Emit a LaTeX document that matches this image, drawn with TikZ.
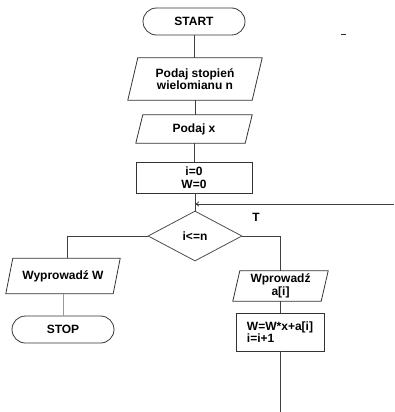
\documentclass[tikz,border=0pt]{standalone}
\usepackage{fontspec}
\setmainfont{Liberation Sans}
\usetikzlibrary{shapes.geometric,shapes.misc,arrows.meta}
\begin{document}
\begin{tikzpicture}[x=1pt,y=-1pt,
  line/.style={draw=black!75, line width=0.8pt},
  txt/.style={font=\fontsize{12}{12.5}\selectfont\bfseries, align=center, inner sep=0pt},
  term/.style={rounded rectangle, draw=black!80, line width=0.8pt, minimum width=102pt, minimum height=27pt, txt},
  box/.style={rectangle, draw=black!80, line width=0.8pt, txt},
  body/.style={rectangle, draw=none, txt},
  shp/.style={draw=black!80, line width=0.8pt},
  dia/.style={diamond, draw=black!70, line width=0.8pt, aspect=1.88, minimum width=94pt, minimum height=50pt, inner sep=0pt, txt}
]
\useasboundingbox (0,0) rectangle (394,412);

\node[term] (start) at (194,21.5) {START};
\node[body, minimum width=124pt, minimum height=42pt] (p1) at (195,79) {Podaj stopień\\wielomianu n};
\node[body, minimum width=109pt, minimum height=28pt] (p2) at (194,129) {Podaj x};
\node[box, minimum width=116pt, minimum height=31pt] (r1) at (194,177.5) {i=0\\W=0};
\node[dia] (d) at (195,236) {i<=n};
\node[body, minimum width=107pt, minimum height=35pt] (p3) at (63,276) {Wyprowadź W};
\node[term] (stop) at (63,329.5) {STOP};
\node[body, minimum width=88pt, minimum height=30pt] (p4) at (280.5,286) {Wprowadź\\a[i]};
\node[box, minimum width=88pt, minimum height=38pt, align=left] (r2) at (280,332) {W=W*x+a[i]\\i=i+1};
\node[txt] (t) at (256,217) {T};

% parallelogram outlines
\draw[shp] ([xshift=-5pt]p1.south west) -- ([xshift=-5pt]p1.south east) -- ([xshift=5pt]p1.north east) -- ([xshift=5pt]p1.north west) -- cycle;
\draw[shp] ([xshift=-3.5pt]p2.south west) -- ([xshift=-3.5pt]p2.south east) -- ([xshift=3.5pt]p2.north east) -- ([xshift=3.5pt]p2.north west) -- cycle;
\draw[shp] ([xshift=-3.5pt]p3.south west) -- ([xshift=-3.5pt]p3.south east) -- ([xshift=3.5pt]p3.north east) -- ([xshift=3.5pt]p3.north west) -- cycle;
\draw[shp] ([xshift=-3.5pt]p4.south west) -- ([xshift=-3.5pt]p4.south east) -- ([xshift=3.5pt]p4.north east) -- ([xshift=3.5pt]p4.north west) -- cycle;

\coordinate (loopin) at (394,204);
\coordinate (bottom) at (280,412);

\draw[line] (start.south) -- (start.south |- p1.north);
\draw[line] (p1.south) -- (p1.south |- p2.north);
\draw[line] (p2.south) -- (p2.south |- r1.north);
\draw[line] (r1.south -| d.north) -- (d.north);
\draw[line, -{To[length=4pt,width=5pt]}] (loopin) -- (loopin -| d.north);
\draw[line] (d.west) -| ([xshift=4pt]p3.north);
\draw[line, draw=black!40] (p3.south) -- (stop.north);
\draw[line] (d.east) -| (p4.north);
\draw[line] (p4.south) -- (p4.south |- r2.north);
\draw[line] (r2.south) -- (bottom);

\draw[line width=1pt, black!80] (341,35) -- (346,35);
\end{tikzpicture}
\end{document}
